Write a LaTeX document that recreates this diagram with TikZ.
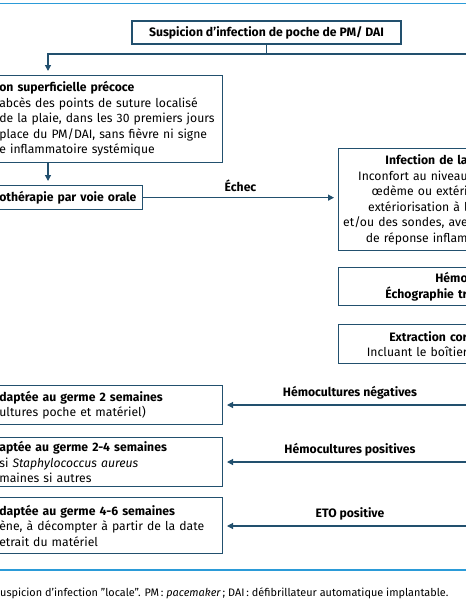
\documentclass[tikz,border=0pt]{standalone}
\usepackage{fontspec}
\setmainfont{Fira Sans}
\usetikzlibrary{arrows.meta}
\definecolor{boxblue}{HTML}{22506E}
\definecolor{ruleblue}{HTML}{2B9BD8}
\begin{document}
\begin{tikzpicture}[x=1pt,y=-1pt,
  box/.style={draw=boxblue,line width=1.3pt,rectangle,inner ysep=0pt,
    font=\fontsize{12.2}{15.5}\selectfont},
  lbox/.style={box,anchor=north east,align=left,inner xsep=4pt,text width=#1},
  rbox/.style={box,anchor=north west,align=right,inner xsep=1pt,
    text width=128pt,minimum width=130pt},
  link/.style={draw=boxblue,line width=1.2pt},
  arr/.style={link,-{Triangle[width=6pt,length=6pt]},shorten >=4pt},
  lab/.style={font=\bfseries\fontsize{12.2}{13}\selectfont}]
  \useasboundingbox (0,0) rectangle (466,600);
  \clip (0,0) rectangle (466,600);
  % rules
  \draw[ruleblue,line width=1.5pt] (0,3.5) -- (466,3.5);
  \draw[ruleblue,line width=1.5pt] (0,570) -- (466,570);
  % top
  \node[box,minimum width=269pt,minimum height=23pt] (susp) at (266.5,32.5)
    {\textbf{Suspicion d'infection de poche de PM/ DAI}};
  % left column
  \node[lbox=219pt,minimum height=87pt] (sup) at (223,75)
    {\textbf{on superficielle précoce}\\abcès des points de suture localisé\\
     de la plaie, dans les 30 premiers jours\\place du PM/DAI, sans fièvre ni signe\\
     e inflammatoire systémique};
  \node[lbox=139pt,minimum height=24pt] (abo) at (143,185)
    {\textbf{othérapie par voie orale}};
  \node[lbox=219pt,minimum height=39pt] (t2) at (223,385)
    {\textbf{daptée au germe 2 semaines}\\ultures poche et matériel)};
  \node[lbox=219pt,minimum height=49pt] (t24) at (223,437)
    {\textbf{aptée au germe 2-4 semaines}\\si \textit{Staphylococcus aureus}\\maines si autres};
  \node[lbox=219pt,minimum height=56pt] (t46) at (223,497)
    {\textbf{daptée au germe 4-6 semaines}\\ène, à décompter à partir de la date\\etrait du matériel};
  % right column
  \node[rbox,minimum height=102pt] (loc) at (338,148)
    {\textbf{Infection de la}\\Inconfort au niveau\\œdème ou extéri\\extériorisation à l\\
     et/ou des sondes, ave\\de réponse inflam};
  \node[rbox,minimum height=38pt] (hemo) at (338,267)
    {\textbf{Hémo}\\\textbf{Échographie tr}};
  \node[rbox,minimum height=39pt] (extr) at (338,324)
    {\textbf{Extraction cor}\\Incluant le boîtier};
  % connectors
  \coordinate (split) at (266.5,54);
  \coordinate (brL) at (48,54);
  \coordinate (brR) at (470,54);
  \draw[link] (susp.south) -- (split);
  \draw[arr] (brR) -- (brL) -- (brL |- sup.north);
  \draw[arr] (sup.south -| brL) -- (abo.north -| brL);
  \draw[arr] (abo.east) -- (abo.east -| loc.west) node[lab,midway,above=2pt] {Échec};
  \coordinate (neg) at (477,405);
  \coordinate (pos) at (477,462);
  \coordinate (eto) at (477,526);
  \draw[arr] (neg) -- (neg -| t2.east) node[lab,midway,above=2pt] {Hémocultures négatives};
  \draw[arr] (pos) -- (pos -| t24.east) node[lab,midway,above=2pt] {Hémocultures positives};
  \draw[arr] (eto) -- (eto -| t46.east) node[lab,midway,above=2pt] {ETO positive};
  % footnote
  \node[anchor=base west,inner sep=0pt,font=\fontsize{10.9}{12}\selectfont] (note) at (0,596)
    {uspicion d'infection "locale". PM\,: \textit{pacemaker}\,; DAI\,: défibrillateur automatique implantable.};
\end{tikzpicture}
\end{document}
